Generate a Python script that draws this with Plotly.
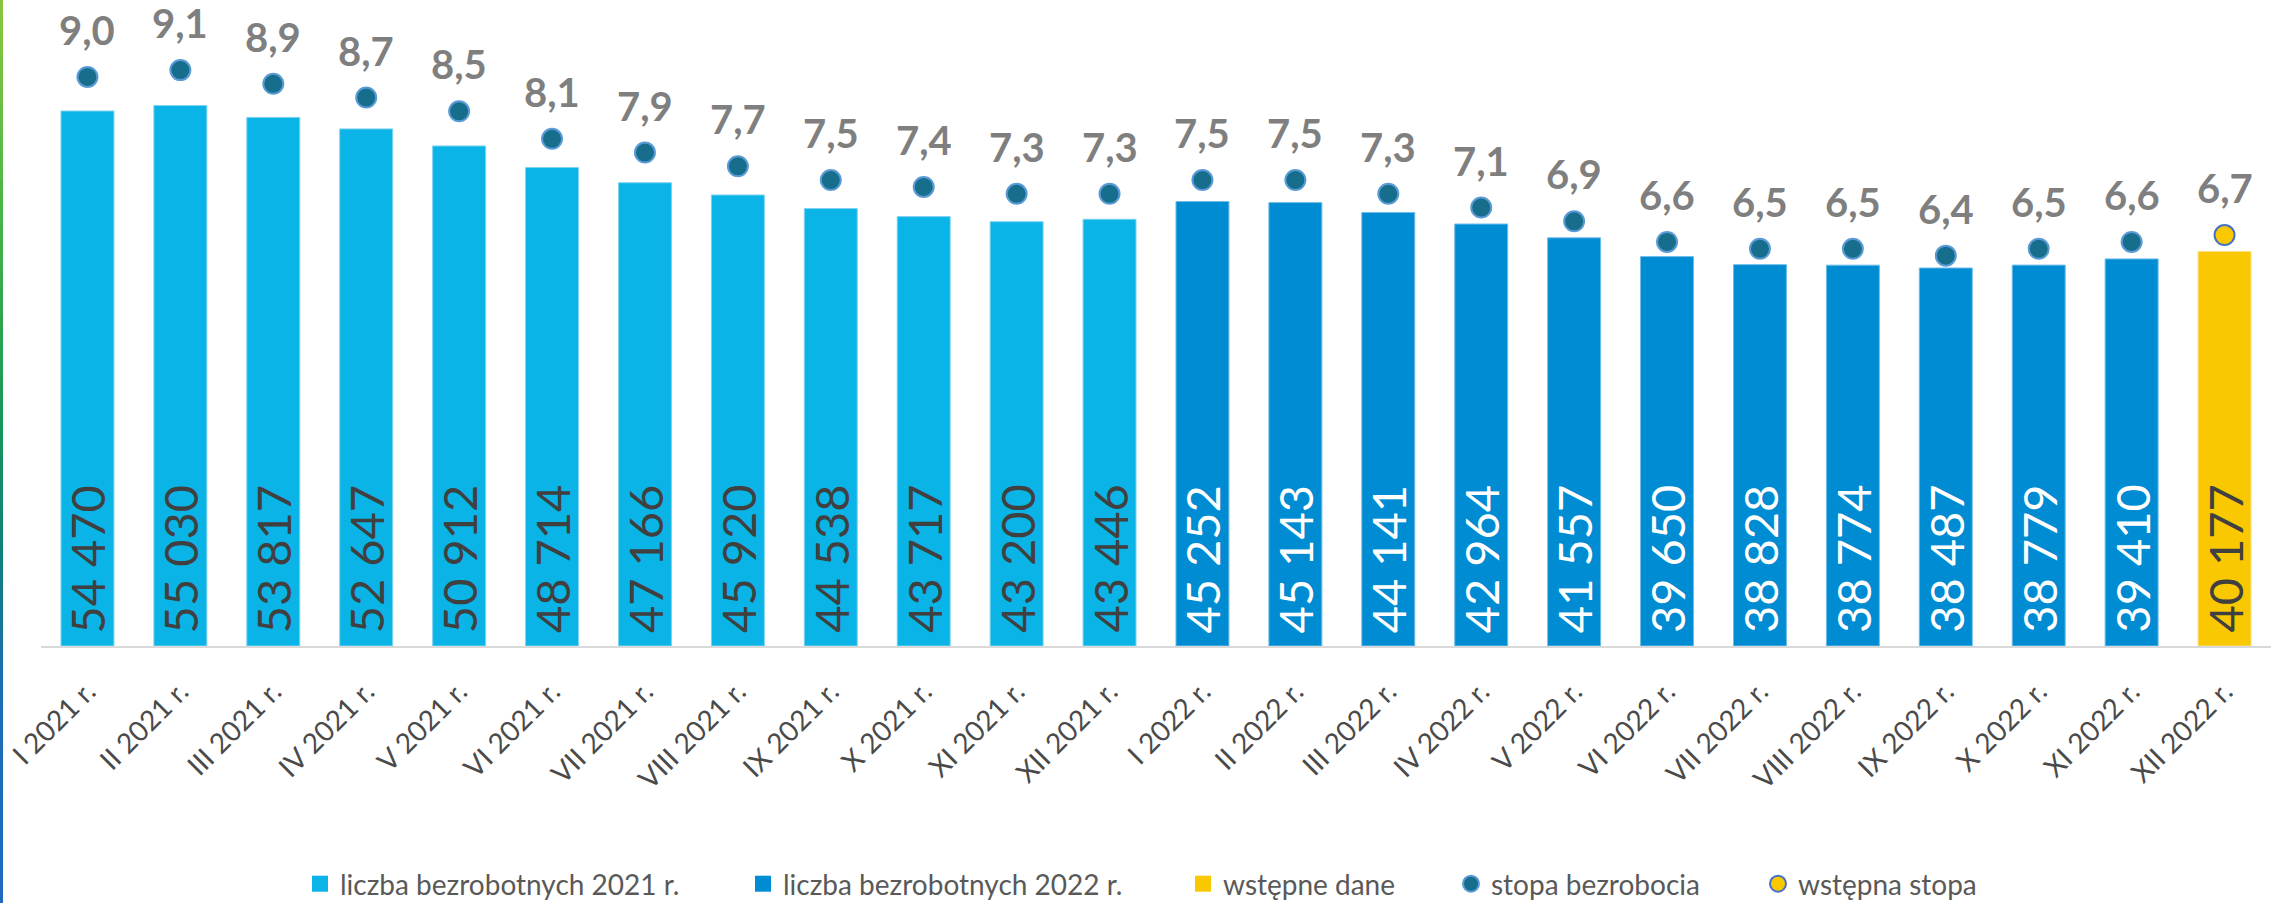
import plotly.graph_objects as go

# ---------------- data ----------------
categories = ["I 2021 r.", "II 2021 r.", "III 2021 r.", "IV 2021 r.", "V 2021 r.", "VI 2021 r.",
              "VII 2021 r.", "VIII 2021 r.", "IX 2021 r.", "X 2021 r.", "XI 2021 r.", "XII 2021 r.",
              "I 2022 r.", "II 2022 r.", "III 2022 r.", "IV 2022 r.", "V 2022 r.", "VI 2022 r.",
              "VII 2022 r.", "VIII 2022 r.", "IX 2022 r.", "X 2022 r.", "XI 2022 r.", "XII 2022 r."]
cat_2021 = categories[:12]
cat_2022 = categories[12:23]
cat_prelim = categories[23:]

unemployed_2021 = [54470, 55030, 53817, 52647, 50912, 48714, 47166, 45920, 44538, 43717, 43200, 43446]
unemployed_2022 = [45252, 45143, 44141, 42964, 41557, 39650, 38828, 38774, 38487, 38779, 39410]
unemployed_prelim = [40177]

rate = [9.0, 9.1, 8.9, 8.7, 8.5, 8.1, 7.9, 7.7, 7.5, 7.4, 7.3, 7.3,
        7.5, 7.5, 7.3, 7.1, 6.9, 6.6, 6.5, 6.5, 6.4, 6.5, 6.6]
rate_prelim = [6.7]

# ---------------- styling ----------------
W, H = 2271, 903
ML, MR, MT, MB = 41, 0, 0, 257
FONT = "Lato"
C2021 = "#0BB4E6"
C2022 = "#008CD3"
CPRE = "#F9C800"
CDOT = "#166E8C"
CDOT_LINE = "#5B9BD5"
CPRE_LINE = "#4472C4"
BAR_W = 0.57


def fmt_int(v):
    return f"{v:,}".replace(",", " ")


def fmt_rate(v):
    return f"{v:.1f}".replace(".", ",")


fig = go.Figure()

fig.add_trace(go.Bar(x=cat_2021, y=unemployed_2021, name="liczba bezrobotnych 2021 r.",
                     marker=dict(color=C2021, line=dict(width=1, color="#7FD3F0")), width=BAR_W,
                     showlegend=False))
fig.add_trace(go.Bar(x=cat_2022, y=unemployed_2022, name="liczba bezrobotnych 2022 r.",
                     marker=dict(color=C2022, line=dict(width=1, color="#6FBDE8")), width=BAR_W,
                     showlegend=False))
fig.add_trace(go.Bar(x=cat_prelim, y=unemployed_prelim, name="wstępne dane",
                     marker=dict(color=CPRE, line=dict(width=1, color="#FBE08A")), width=BAR_W,
                     showlegend=False))

fig.add_trace(go.Scatter(x=categories[:23], y=rate, yaxis="y2", mode="markers", name="stopa bezrobocia",
                         marker=dict(size=20, color=CDOT, line=dict(width=2, color=CDOT_LINE)),
                         showlegend=False))
fig.add_trace(go.Scatter(x=cat_prelim, y=rate_prelim, yaxis="y2", mode="markers", name="wstępna stopa",
                         marker=dict(size=20, color=CPRE, line=dict(width=2, color=CPRE_LINE)),
                         showlegend=False))

# legend entries (one legend each so positions match)
legend_items = [
    ("liczba bezrobotnych 2021 r.", "square", C2021, C2021, 0),
    ("liczba bezrobotnych 2022 r.", "square", C2022, C2022, 0),
    ("wstępne dane", "square", CPRE, CPRE, 0),
    ("stopa bezrobocia", "circle", CDOT, CDOT_LINE, 2),
    ("wstępna stopa", "circle", CPRE, CPRE_LINE, 2),
]
text_starts = [343, 786, 1226, 1494, 1801]
legend_ids = ["legend", "legend2", "legend3", "legend4", "legend5"]
for (name, sym, col, lcol, lw), lid in zip(legend_items, legend_ids):
    fig.add_trace(go.Scatter(x=[None], y=[None], mode="markers", name=name, legend=lid,
                             marker=dict(symbol=sym, size=16, color=col, line=dict(width=lw, color=lcol))))

legend_cfg = {}
for lid, ts in zip(legend_ids, text_starts):
    legend_cfg[lid] = dict(
        x=(ts - 43) / W, xref="container", xanchor="left",
        y=1 - 884 / H, yref="container", yanchor="middle",
        orientation="h", bgcolor="rgba(0,0,0,0)", borderwidth=0,
        font=dict(family=FONT, size=28, color="#595959"),
        itemclick=False, itemdoubleclick=False,
    )

annotations = []
# value labels inside bars
for cats, vals, col in [(cat_2021, unemployed_2021, "#404040"),
                        (cat_2022, unemployed_2022, "#FFFFFF"),
                        (cat_prelim, unemployed_prelim, "#404040")]:
    for c, v in zip(cats, vals):
        annotations.append(dict(x=c, y=0, xref="x", yref="y", text=fmt_int(v), showarrow=False,
                                textangle=-90, yanchor="bottom", xanchor="center", yshift=11,
                                font=dict(family=FONT, size=47, color=col)))
# rate labels
for c, v in zip(categories, rate + rate_prelim):
    annotations.append(dict(x=c, y=v, xref="x", yref="y2", text=fmt_rate(v), showarrow=False,
                            yanchor="middle", xanchor="center", yshift=47,
                            font=dict(family=FONT, size=40, color="#7F7F7F", weight="bold")))

# decorative left edge (green -> blue)
edge_stops = [(0, (140, 198, 63)), (200, (76, 182, 72)), (420, (22, 150, 88)),
              (560, (18, 125, 125)), (680, (28, 110, 180)), (903, (31, 106, 192))]
shapes = []
seg = 15
py = 0
plot_h = H - MT - MB
plot_w = W - ML - MR
while py < H:
    mid = py + seg / 2
    rgb = edge_stops[-1][1]
    for (a, ca), (b, cb) in zip(edge_stops[:-1], edge_stops[1:]):
        if a <= mid <= b:
            t = (mid - a) / (b - a)
            rgb = tuple(round(ca[i] + (cb[i] - ca[i]) * t) for i in range(3))
            break
    shapes.append(dict(type="rect", xref="paper", yref="paper",
                       x0=(0 - ML) / plot_w, x1=(3 - ML) / plot_w,
                       y0=(H - MB - min(py + seg, H)) / plot_h, y1=(H - MB - py) / plot_h,
                       fillcolor=f"rgb{rgb}", line=dict(width=0), layer="above"))
    py += seg

fig.update_layout(
    width=W, height=H,
    margin=dict(l=ML, r=MR, t=MT, b=MB, pad=0),
    paper_bgcolor="white", plot_bgcolor="white",
    barmode="overlay",
    font=dict(family=FONT),
    xaxis=dict(type="category", categoryorder="array", categoryarray=categories,
               range=[-0.5, len(categories) - 0.5],
               showline=True, linecolor="#D9D9D9", linewidth=2, showgrid=False, ticks="",
               tickangle=-45, tickfont=dict(family=FONT, size=28, color="#4A4A4A"),
               ticklabelstandoff=16),
    yaxis=dict(range=[0, 65770], visible=False, showgrid=False),
    yaxis2=dict(range=[0.72, 10.12], overlaying="y", side="right", visible=False, showgrid=False),
    annotations=annotations,
    shapes=shapes,
    **legend_cfg,
)

fig.write_html("out.html")
